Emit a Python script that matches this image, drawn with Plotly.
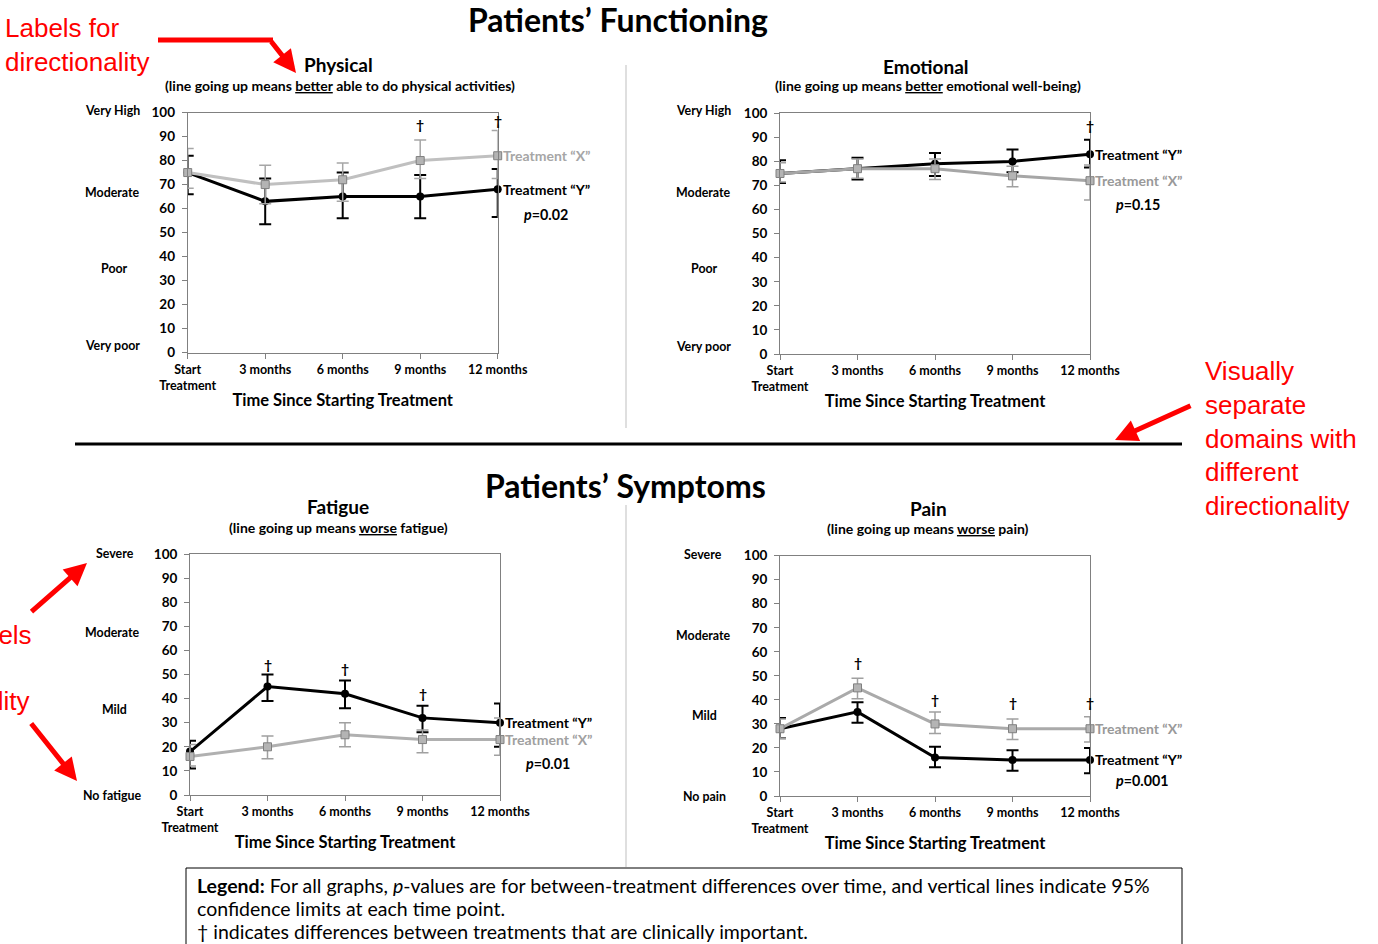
import plotly.graph_objects as go

W, H = 1378, 944
FONT = "Lato"
RED = "#ff0000"

# ---------------- data ----------------
categories = ["Start<br>Treatment", "3 months", "6 months", "9 months", "12 months"]
x_idx = [0, 1, 2, 3, 4]
y_ticks = [0, 10, 20, 30, 40, 50, 60, 70, 80, 90, 100]

# Physical functioning
phys_y_mean = [75, 63, 65, 65, 68]
phys_y_lo = [66, 53.5, 56, 56, 56.5]
phys_y_hi = [82, 72.5, 75, 74, 76.5]
phys_x_mean = [75, 70, 72, 80, 82]
phys_x_lo = [68.5, 62, 63, 72.5, 72.5]
phys_x_hi = [85, 78, 79, 88.5, 92.5]
phys_dagger_x = [3, 4]
phys_dagger_y = [95, 96.5]
phys_p = "0.02"
phys_p_y = 57.5

# Emotional functioning
emo_y_mean = [75, 77, 79, 80, 83]
emo_y_lo = [71, 72.5, 74, 75.5, 77.5]
emo_y_hi = [80.5, 81.5, 83.5, 85, 89]
emo_x_mean = [75, 77, 77, 74, 72]
emo_x_lo = [71.5, 73, 72.5, 69.5, 64]
emo_x_hi = [79.5, 81, 81, 78, 78.5]
emo_dagger_x = [4]
emo_dagger_y = [95]
emo_p = "0.15"
emo_p_y = 62

# Fatigue
fat_y_mean = [18, 45, 42, 32, 30]
fat_y_lo = [11, 39, 36, 26, 20]
fat_y_hi = [22.5, 50, 47.5, 37, 38]
fat_x_mean = [16, 20, 25, 23, 23]
fat_x_lo = [12, 15, 20, 17.5, 16.5]
fat_x_hi = [21, 24.5, 30, 27, 32]
fat_dagger_x = [1, 2, 3]
fat_dagger_y = [54, 52.5, 42]
fat_p = "0.01"
fat_p_y = 13

# Pain
pain_y_mean = [28, 35, 16, 15, 15]
pain_y_lo = [24, 30.5, 12, 10.5, 9.5]
pain_y_hi = [32.5, 39, 20.5, 19, 20]
pain_x_mean = [28, 45, 30, 28, 28]
pain_x_lo = [24, 40.5, 26, 23.5, 22.5]
pain_x_hi = [32, 49, 35, 32, 33]
pain_dagger_x = [1, 2, 3, 4]
pain_dagger_y = [55.5, 40, 39, 39]
pain_p = "0.001"
pain_p_y = 6.3


def PX(px):
    return px / W


def PY(py):
    return 1 - py / H


fig = go.Figure()

panels = [
    dict(s="", xd=(187.7, 497.7), yd=(112.5, 352.7),
         ym=phys_y_mean, ylo=phys_y_lo, yhi=phys_y_hi,
         xm=phys_x_mean, xlo=phys_x_lo, xhi=phys_x_hi,
         dx=phys_dagger_x, dy=phys_dagger_y, p=phys_p, py=phys_p_y,
         grey="#c0c0c0", greyerr="#a6a6a6", greytxt="#a6a6a6"),
    dict(s="2", xd=(780, 1090), yd=(113.3, 354),
         ym=emo_y_mean, ylo=emo_y_lo, yhi=emo_y_hi,
         xm=emo_x_mean, xlo=emo_x_lo, xhi=emo_x_hi,
         dx=emo_dagger_x, dy=emo_dagger_y, p=emo_p, py=emo_p_y,
         grey="#a6a6a6", greyerr="#a0a0a0", greytxt="#999999"),
    dict(s="3", xd=(190, 500), yd=(554, 795),
         ym=fat_y_mean, ylo=fat_y_lo, yhi=fat_y_hi,
         xm=fat_x_mean, xlo=fat_x_lo, xhi=fat_x_hi,
         dx=fat_dagger_x, dy=fat_dagger_y, p=fat_p, py=fat_p_y,
         grey="#b0b0b0", greyerr="#a0a0a0", greytxt="#a0a0a0"),
    dict(s="4", xd=(780, 1090), yd=(555.7, 796),
         ym=pain_y_mean, ylo=pain_y_lo, yhi=pain_y_hi,
         xm=pain_x_mean, xlo=pain_x_lo, xhi=pain_x_hi,
         dx=pain_dagger_x, dy=pain_dagger_y, p=pain_p, py=pain_p_y,
         grey="#aaaaaa", greyerr="#a0a0a0", greytxt="#999999"),
]

annotations = []
layout_axes = {}

for pn in panels:
    s = pn["s"]
    xa, ya = "x" + s, "y" + s
    # Treatment "Y" (black)
    fig.add_trace(go.Scatter(
        x=x_idx, y=pn["ym"], xaxis=xa, yaxis=ya, mode="lines+markers",
        line=dict(color="black", width=3),
        marker=dict(symbol="circle", size=8, color="black"),
        error_y=dict(type="data", symmetric=False,
                     array=[h - m for h, m in zip(pn["yhi"], pn["ym"])],
                     arrayminus=[m - l for m, l in zip(pn["ym"], pn["ylo"])],
                     color="black", thickness=2, width=6),
        cliponaxis=False, hoverinfo="skip"))
    # Treatment "X" (grey)
    fig.add_trace(go.Scatter(
        x=x_idx, y=pn["xm"], xaxis=xa, yaxis=ya, mode="lines+markers",
        line=dict(color=pn["grey"], width=3),
        marker=dict(symbol="square", size=8, color="#b4b4b4",
                    line=dict(color="#808080", width=1)),
        error_y=dict(type="data", symmetric=False,
                     array=[h - m for h, m in zip(pn["xhi"], pn["xm"])],
                     arrayminus=[m - l for m, l in zip(pn["xm"], pn["xlo"])],
                     color=pn["greyerr"], thickness=1.5, width=6),
        cliponaxis=False, hoverinfo="skip"))

    layout_axes["xaxis" + s] = dict(
        domain=[PX(pn["xd"][0]), PX(pn["xd"][1])], anchor=ya,
        range=[0, 4], tickmode="array", tickvals=x_idx, ticktext=categories,
        showline=True, linecolor="#808080", linewidth=1, mirror=True,
        ticks="outside", ticklen=5, tickcolor="#808080",
        showgrid=False, zeroline=False, automargin=False,
        tickfont=dict(family=FONT, size=12.5, color="black", weight="bold"),
        title=dict(text="Time Since Starting Treatment",
                   font=dict(family=FONT, size=16.5, color="black", weight="bold"),
                   standoff=2),
        fixedrange=True)
    layout_axes["yaxis" + s] = dict(
        domain=[PY(pn["yd"][1]), PY(pn["yd"][0])], anchor=xa,
        range=[0, 100], tickmode="array", tickvals=y_ticks,
        showline=True, linecolor="#808080", linewidth=1, mirror=True,
        ticks="outside", ticklen=5, tickcolor="#808080",
        showgrid=False, zeroline=False, automargin=False,
        ticklabelstandoff=4,
        tickfont=dict(family=FONT, size=13.5, color="black", weight="bold"),
        fixedrange=True)

    for dx, dy in zip(pn["dx"], pn["dy"]):
        annotations.append(dict(x=dx, y=dy, xref=xa, yref=ya, text="<b>†</b>",
                                showarrow=False,
                                font=dict(family=FONT, size=14, color="black")))
    annotations.append(dict(x=4, y=pn["ym"][-1], xref=xa, yref=ya,
                            text="<b>Treatment “Y”</b>", showarrow=False,
                            xanchor="left", xshift=3,
                            font=dict(family=FONT, size=14, color="black")))
    annotations.append(dict(x=4, y=pn["xm"][-1], xref=xa, yref=ya,
                            text="<b>Treatment “X”</b>", showarrow=False,
                            xanchor="left", xshift=3,
                            font=dict(family=FONT, size=14, color=pn["greytxt"])))
    annotations.append(dict(x=4, y=pn["py"], xref=xa, yref=ya,
                            text="<b><i>p</i>=" + pn["p"] + "</b>", showarrow=False,
                            xanchor="left", xshift=24,
                            font=dict(family=FONT, size=14.3, color="black")))


def txt(text, px, py, size, color="black", xanchor="center", family=FONT, align="center"):
    annotations.append(dict(x=PX(px), y=PY(py), xref="paper", yref="paper",
                            text=text, showarrow=False, xanchor=xanchor,
                            yanchor="middle", align=align,
                            font=dict(family=family, size=size, color=color)))


# main titles
txt("<b>Patients’ Functioning</b>", 618, 20, 32)
txt("<b>Patients’ Symptoms</b>", 625, 486, 32)

# panel titles
txt("<b>Physical</b>", 338, 65, 19)
txt("<b>(line going up means <u>better</u> able to do physical activities)</b>", 340, 85, 14)
txt("<b>Emotional</b>", 926, 66, 19)
txt("<b>(line going up means <u>better</u> emotional well-being)</b>", 928, 86, 14)
txt("<b>Fatigue</b>", 338, 507, 19)
txt("<b>(line going up means <u>worse</u> fatigue)</b>", 338, 527, 14)
txt("<b>Pain</b>", 928, 508, 19)
txt("<b>(line going up means <u>worse</u> pain)</b>", 928, 528, 14)

# qualitative level labels
qual = [
    ("Very High", 113, 110), ("Moderate", 113, 192), ("Poor", 114, 268), ("Very poor", 113, 345),
    ("Very High", 703, 111), ("Moderate", 703, 193), ("Poor", 704, 269), ("Very poor", 703, 346),
    ("Severe", 115, 553), ("Moderate", 113, 632), ("Mild", 114, 709), ("No fatigue", 113, 795),
    ("Severe", 703, 554), ("Moderate", 703, 635), ("Mild", 704, 715), ("No pain", 704, 796),
]
for t, qx, qy in qual:
    txt("<b>" + t + "</b>", qx, qy, 12.4)

# red commentary
txt("Labels for<br>directionality", 3, 44.5, 26, RED, "left", "Liberation Sans", "left")
txt("Visually<br>separate<br>domains with<br>different<br>directionality", 1203, 438, 26,
    RED, "left", "Liberation Sans", "left")
txt("Labels", 34, 635, 26, RED, "right", "Liberation Sans")
txt("directionality", 32, 701, 26, RED, "right", "Liberation Sans")


def arrow(x_head, y_head, x_tail, y_tail):
    annotations.append(dict(x=PX(x_head), y=PY(y_head), xref="paper", yref="paper",
                            ax=x_tail - x_head, ay=y_tail - y_head,
                            axref="pixel", ayref="pixel", text="",
                            showarrow=True, arrowhead=2, arrowsize=0.9,
                            arrowwidth=5, arrowcolor=RED))


arrow(296, 73, 270, 40)
arrow(1115, 440, 1192, 405)
arrow(87, 563, 30, 613)
arrow(77, 781, 30, 722)

# legend box text (one annotation per line)
legend_lines = [
    ("<b>Legend:</b> For all graphs, <i>p</i>-values are for between-treatment differences "
     "over time, and vertical lines indicate 95%", 885),
    ("confidence limits at each time point.", 908),
    ("† indicates differences between treatments that are clinically important.", 931),
]
for t, ly in legend_lines:
    annotations.append(dict(x=PX(195), y=PY(ly), xref="paper", yref="paper",
                            xanchor="left", yanchor="middle", align="left",
                            showarrow=False, text=t,
                            font=dict(family=FONT, size=19.5, color="black")))

shapes = [
    dict(type="line", xref="paper", yref="paper", x0=PX(158), x1=PX(273),
         y0=PY(40), y1=PY(40), line=dict(color=RED, width=5)),
    dict(type="line", xref="paper", yref="paper", x0=PX(75), x1=PX(1182),
         y0=PY(444), y1=PY(444), line=dict(color="black", width=3)),
    dict(type="line", xref="paper", yref="paper", x0=PX(626), x1=PX(626),
         y0=PY(65), y1=PY(428), line=dict(color="#bfbfbf", width=1)),
    dict(type="line", xref="paper", yref="paper", x0=PX(626), x1=PX(626),
         y0=PY(505), y1=PY(867), line=dict(color="#bfbfbf", width=1)),
    dict(type="rect", xref="paper", yref="paper", x0=PX(186), x1=PX(1182),
         y0=PY(868), y1=PY(960), line=dict(color="black", width=1)),
]

fig.update_layout(
    width=W, height=H, autosize=False,
    margin=dict(l=0, r=0, t=0, b=0, pad=0),
    paper_bgcolor="white", plot_bgcolor="white",
    showlegend=False,
    font=dict(family=FONT, color="black"),
    annotations=annotations, shapes=shapes,
    **layout_axes,
)

fig.write_html("out.html", config={"displayModeBar": False},
               post_script="document.body.style.margin='0';document.body.style.overflow='hidden';")
